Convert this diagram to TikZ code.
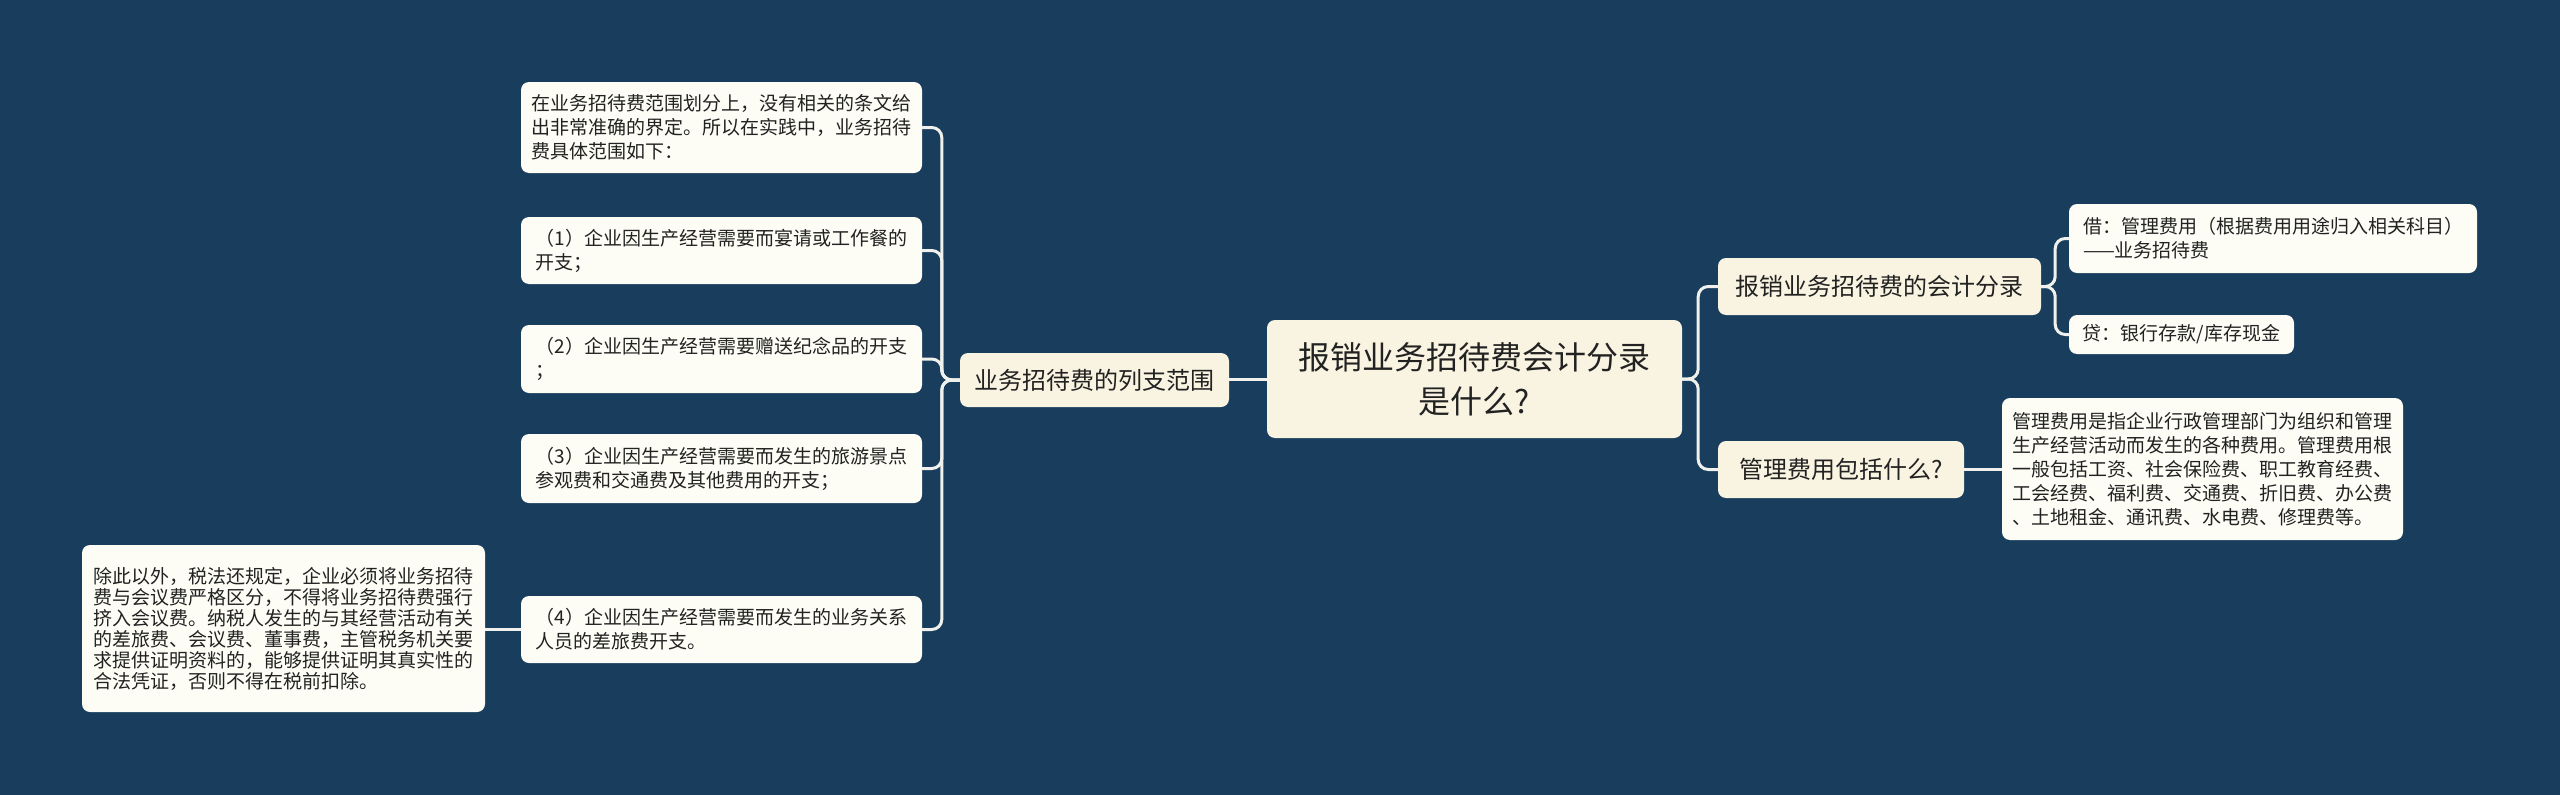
\documentclass[tikz,border=0pt]{standalone}
\usepackage{fontspec}
\setmainfont{Noto Sans CJK SC}
\definecolor{bg}{RGB}{24,61,93}
\definecolor{cream}{RGB}{249,244,225}
\definecolor{leaffill}{RGB}{253,253,246}
\definecolor{linec}{RGB}{240,241,236}
\definecolor{txt}{RGB}{34,34,34}
\tikzset{
  box/.style={rounded corners=8pt, inner xsep=10pt, inner ysep=8pt, text=txt, align=left, anchor=center},
  leaf/.style={box, fill=leaffill, font=\fontsize{19}{24}\selectfont},
  mid/.style={box, fill=cream, font=\fontsize{24}{30}\selectfont},
  root/.style={box, fill=cream, align=center, font=\fontsize{32}{44}\selectfont},
  conn/.style={draw=linec, line width=3pt, rounded corners=10pt}
}
\begin{document}
\begin{tikzpicture}[x=1pt,y=-1pt]
\fill[bg] (0,0) rectangle (2560,795);
\useasboundingbox (0,0) rectangle (2560,795);

\node[root, minimum width=415pt, minimum height=118pt] (central) at (1474.5,379) {报销业务招待费会计分录\\是什么?};
\node[mid, minimum width=269pt, minimum height=54pt] (list) at (1094.5,380) {业务招待费的列支范围};

\node[leaf, minimum width=401pt, minimum height=91pt] (b0) at (721.5,127.5) {在业务招待费范围划分上，没有相关的条文给\\出非常准确的界定。所以在实践中，业务招待\\费具体范围如下：};
\node[leaf, minimum width=401pt, minimum height=67pt] (b1) at (721.5,250.5) {（1）企业因生产经营需要而宴请或工作餐的\\开支；};
\node[leaf, minimum width=401pt, minimum height=68pt] (b2) at (721.5,359) {（2）企业因生产经营需要赠送纪念品的开支\\；};
\node[leaf, minimum width=401pt, minimum height=69pt] (b3) at (721.5,468.5) {（3）企业因生产经营需要而发生的旅游景点\\参观费和交通费及其他费用的开支；};
\node[leaf, minimum width=401pt, minimum height=67pt] (b4) at (721.5,629.5) {（4）企业因生产经营需要而发生的业务关系\\人员的差旅费开支。};
\node[leaf, minimum width=403pt, minimum height=167pt, font=\fontsize{19}{21}\selectfont] (far) at (283.5,628.5) {除此以外，税法还规定，企业必须将业务招待\\费与会议费严格区分，不得将业务招待费强行\\挤入会议费。纳税人发生的与其经营活动有关\\的差旅费、会议费、董事费，主管税务机关要\\求提供证明资料的，能够提供证明其真实性的\\合法凭证，否则不得在税前扣除。};

\node[mid, minimum width=323pt, minimum height=57pt] (acc) at (1879.5,286.5) {报销业务招待费的会计分录};
\node[leaf, minimum width=408pt, minimum height=69pt] (jie) at (2273,238.5) {借：管理费用（根据费用用途归入相关科目）\\——业务招待费};
\node[leaf, minimum width=225pt, minimum height=39pt] (dai) at (2181.5,334.5) {贷：银行存款/库存现金};
\node[mid, minimum width=246pt, minimum height=57pt] (mgmt) at (1841,469.5) {管理费用包括什么?};
\node[leaf, minimum width=401pt, minimum height=142pt] (desc) at (2202.5,469) {管理费用是指企业行政管理部门为组织和管理\\生产经营活动而发生的各种费用。管理费用根\\一般包括工资、社会保险费、职工教育经费、\\工会经费、福利费、交通费、折旧费、办公费\\、土地租金、通讯费、水电费、修理费等。};

% connectors
\draw[conn] (central.west) -- (central.west -| list.east);
\foreach \c in {b0,b1,b2,b3,b4}{
  \draw[conn] (list.west) -- ++(-18,0) |- (\c.east);
}
\draw[conn] (b4.west) -- (b4.west -| far.east);
\draw[conn] (central.east) -- ++(16,0) |- (acc.west);
\draw[conn] (central.east) -- ++(16,0) |- (mgmt.west);
\draw[conn] (acc.east) -- ++(14,0) |- (jie.west);
\draw[conn] (acc.east) -- ++(14,0) |- (dai.west);
\draw[conn] (mgmt.east) -- (mgmt.east -| desc.west);
\end{tikzpicture}
\end{document}
